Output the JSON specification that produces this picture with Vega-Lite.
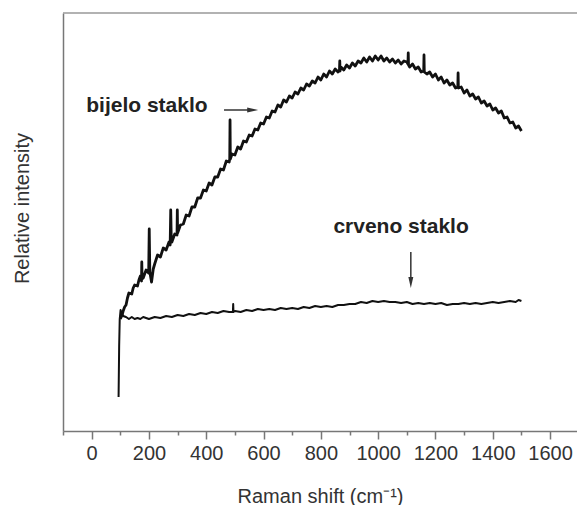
{
  "$schema": "https://vega.github.io/schema/vega-lite/v6.json",
  "autosize": {"type": "none"},
  "padding": {"left": 63, "top": 13, "right": 0, "bottom": 74},
  "width": 514,
  "height": 418,
  "background": "white",
  "view": {"stroke": null},
  "config": {
    "font": "Liberation Sans",
    "axis": {"grid": false, "labelFont": "Liberation Sans", "titleFont": "Liberation Sans"}
  },
  "datasets": {
    "white": [
      {"shift":100,"intensity":112},{"shift":105,"intensity":115},{"shift":110,"intensity":120},{"shift":115,"intensity":124},{"shift":120,"intensity":126},{"shift":125,"intensity":133},{"shift":130,"intensity":138},{"shift":140,"intensity":137},{"shift":145,"intensity":143},{"shift":150,"intensity":146},{"shift":160,"intensity":145},{"shift":165,"intensity":151},{"shift":170,"intensity":155},{"shift":174,"intensity":150},{"shift":175,"intensity":169},{"shift":176,"intensity":152},{"shift":180,"intensity":153},{"shift":190,"intensity":161},{"shift":199,"intensity":158},{"shift":201,"intensity":202},{"shift":203,"intensity":159},{"shift":209,"intensity":149},{"shift":215,"intensity":162},{"shift":220,"intensity":167},{"shift":230,"intensity":176},{"shift":240,"intensity":174},{"shift":250,"intensity":183},{"shift":260,"intensity":181},{"shift":270,"intensity":189},{"shift":274,"intensity":186},{"shift":276,"intensity":221},{"shift":278,"intensity":190},{"shift":280,"intensity":189},{"shift":290,"intensity":197},{"shift":298,"intensity":196},{"shift":299,"intensity":221},{"shift":300,"intensity":198},{"shift":310,"intensity":206},{"shift":320,"intensity":207},{"shift":330,"intensity":216},{"shift":340,"intensity":215},{"shift":350,"intensity":224},{"shift":360,"intensity":224},{"shift":370,"intensity":233},{"shift":380,"intensity":233},{"shift":390,"intensity":241},{"shift":400,"intensity":240},{"shift":410,"intensity":248},{"shift":420,"intensity":246},{"shift":430,"intensity":254},{"shift":440,"intensity":254},{"shift":450,"intensity":262},{"shift":460,"intensity":261},{"shift":470,"intensity":270},{"shift":480,"intensity":269},{"shift":482,"intensity":272},{"shift":483,"intensity":311},{"shift":484,"intensity":272},{"shift":490,"intensity":277},{"shift":500,"intensity":276},{"shift":510,"intensity":284},{"shift":520,"intensity":282},{"shift":530,"intensity":290},{"shift":540,"intensity":289},{"shift":550,"intensity":296},{"shift":560,"intensity":295},{"shift":570,"intensity":302},{"shift":580,"intensity":301},{"shift":590,"intensity":308},{"shift":600,"intensity":307},{"shift":610,"intensity":314},{"shift":620,"intensity":313},{"shift":630,"intensity":320},{"shift":640,"intensity":319},{"shift":650,"intensity":326},{"shift":660,"intensity":324},{"shift":670,"intensity":331},{"shift":680,"intensity":329},{"shift":690,"intensity":335},{"shift":700,"intensity":333},{"shift":710,"intensity":339},{"shift":720,"intensity":337},{"shift":730,"intensity":343},{"shift":740,"intensity":341},{"shift":750,"intensity":347},{"shift":760,"intensity":345},{"shift":770,"intensity":350},{"shift":780,"intensity":348},{"shift":790,"intensity":354},{"shift":800,"intensity":351},{"shift":810,"intensity":357},{"shift":820,"intensity":354},{"shift":830,"intensity":360},{"shift":840,"intensity":357},{"shift":850,"intensity":362},{"shift":860,"intensity":359},{"shift":865,"intensity":361},{"shift":866,"intensity":370},{"shift":867,"intensity":360},{"shift":870,"intensity":364},{"shift":880,"intensity":361},{"shift":890,"intensity":366},{"shift":900,"intensity":363},{"shift":910,"intensity":368},{"shift":920,"intensity":365},{"shift":930,"intensity":370},{"shift":940,"intensity":368},{"shift":950,"intensity":373},{"shift":960,"intensity":369},{"shift":970,"intensity":374},{"shift":980,"intensity":370},{"shift":990,"intensity":375},{"shift":1000,"intensity":371},{"shift":1010,"intensity":375},{"shift":1020,"intensity":370},{"shift":1030,"intensity":373},{"shift":1040,"intensity":369},{"shift":1050,"intensity":372},{"shift":1060,"intensity":368},{"shift":1070,"intensity":371},{"shift":1080,"intensity":367},{"shift":1090,"intensity":370},{"shift":1100,"intensity":369},{"shift":1104,"intensity":367},{"shift":1105,"intensity":378},{"shift":1106,"intensity":366},{"shift":1110,"intensity":364},{"shift":1120,"intensity":367},{"shift":1130,"intensity":362},{"shift":1140,"intensity":364},{"shift":1150,"intensity":359},{"shift":1159,"intensity":360},{"shift":1160,"intensity":376},{"shift":1161,"intensity":359},{"shift":1170,"intensity":357},{"shift":1180,"intensity":359},{"shift":1190,"intensity":354},{"shift":1200,"intensity":357},{"shift":1210,"intensity":351},{"shift":1220,"intensity":354},{"shift":1230,"intensity":348},{"shift":1240,"intensity":351},{"shift":1250,"intensity":346},{"shift":1260,"intensity":348},{"shift":1270,"intensity":343},{"shift":1278,"intensity":344},{"shift":1279,"intensity":358},{"shift":1280,"intensity":343},{"shift":1290,"intensity":344},{"shift":1300,"intensity":338},{"shift":1310,"intensity":341},{"shift":1320,"intensity":335},{"shift":1330,"intensity":337},{"shift":1340,"intensity":332},{"shift":1350,"intensity":334},{"shift":1360,"intensity":328},{"shift":1370,"intensity":330},{"shift":1380,"intensity":325},{"shift":1390,"intensity":327},{"shift":1400,"intensity":321},{"shift":1410,"intensity":323},{"shift":1420,"intensity":318},{"shift":1430,"intensity":320},{"shift":1440,"intensity":313},{"shift":1450,"intensity":314},{"shift":1460,"intensity":308},{"shift":1470,"intensity":309},{"shift":1480,"intensity":303},{"shift":1490,"intensity":305},{"shift":1500,"intensity":300}
    ],
    "red": [
      {"shift":94,"intensity":34},{"shift":96,"intensity":85},{"shift":98,"intensity":112},{"shift":101,"intensity":121},{"shift":105,"intensity":118},{"shift":110,"intensity":115},{"shift":120,"intensity":114},{"shift":130,"intensity":112},{"shift":140,"intensity":114},{"shift":150,"intensity":112},{"shift":160,"intensity":113},{"shift":170,"intensity":112},{"shift":180,"intensity":114},{"shift":190,"intensity":113},{"shift":200,"intensity":112},{"shift":220,"intensity":114},{"shift":240,"intensity":113},{"shift":260,"intensity":115},{"shift":280,"intensity":114},{"shift":300,"intensity":116},{"shift":320,"intensity":115},{"shift":340,"intensity":117},{"shift":360,"intensity":116},{"shift":380,"intensity":118},{"shift":400,"intensity":117},{"shift":420,"intensity":119},{"shift":440,"intensity":118},{"shift":460,"intensity":120},{"shift":480,"intensity":119},{"shift":493,"intensity":119},{"shift":494,"intensity":127},{"shift":495,"intensity":119},{"shift":500,"intensity":120},{"shift":520,"intensity":119},{"shift":540,"intensity":121},{"shift":560,"intensity":120},{"shift":580,"intensity":122},{"shift":600,"intensity":121},{"shift":620,"intensity":122},{"shift":640,"intensity":121},{"shift":660,"intensity":123},{"shift":680,"intensity":122},{"shift":700,"intensity":123},{"shift":720,"intensity":122},{"shift":740,"intensity":124},{"shift":760,"intensity":123},{"shift":780,"intensity":125},{"shift":800,"intensity":124},{"shift":820,"intensity":125},{"shift":840,"intensity":124},{"shift":860,"intensity":126},{"shift":880,"intensity":126},{"shift":900,"intensity":127},{"shift":920,"intensity":127},{"shift":940,"intensity":129},{"shift":960,"intensity":128},{"shift":980,"intensity":130},{"shift":1000,"intensity":129},{"shift":1020,"intensity":130},{"shift":1040,"intensity":129},{"shift":1060,"intensity":129},{"shift":1080,"intensity":128},{"shift":1100,"intensity":129},{"shift":1120,"intensity":127},{"shift":1140,"intensity":128},{"shift":1160,"intensity":127},{"shift":1180,"intensity":128},{"shift":1200,"intensity":127},{"shift":1220,"intensity":128},{"shift":1240,"intensity":126},{"shift":1260,"intensity":127},{"shift":1280,"intensity":127},{"shift":1300,"intensity":128},{"shift":1320,"intensity":127},{"shift":1340,"intensity":128},{"shift":1360,"intensity":127},{"shift":1380,"intensity":128},{"shift":1400,"intensity":129},{"shift":1420,"intensity":128},{"shift":1440,"intensity":129},{"shift":1460,"intensity":130},{"shift":1480,"intensity":129},{"shift":1490,"intensity":131},{"shift":1500,"intensity":130}
    ],
    "labels": [
      {"text": "bijelo staklo", "shift": 193, "intensity": 319},
      {"text": "crveno staklo", "shift": 1080, "intensity": 198}
    ],
    "arrows": [
      {"shift": 462, "shift2": 560, "intensity": 321, "intensity2": 321},
      {"shift": 1114, "shift2": 1114, "intensity": 179, "intensity2": 151}
    ],
    "frame": [{"shift": -100, "shift2": 1694, "intensity": 418}],
    "headRight": [{"shift": 562, "intensity": 321}],
    "headDown": [{"shift": 1114, "intensity": 148.5}]
  },
  "encoding": {
    "x": {
      "field": "shift", "type": "quantitative",
      "scale": {"domain": [-100, 1694], "nice": false, "zero": false},
      "axis": {
        "values": [-100, 0, 100, 200, 300, 400, 500, 600, 700, 800, 900, 1000, 1100, 1200, 1300, 1400, 1500, 1600],
        "labelExpr": "datum.value % 200 === 0 ? datum.label : ''",
        "format": "d",
        "tickSize": {"condition": {"test": "datum.value % 200 !== 0", "value": 4}, "value": 8},
        "tickColor": "#777777", "tickWidth": 1.5,
        "domainColor": "#777777", "domainWidth": 1.5,
        "labelFontSize": 20, "labelColor": "#333333", "labelPadding": 4, "labelFlush": false, "labelOverlap": false,
        "title": "Raman shift (cm⁻¹)",
        "titleFontSize": 20, "titleFontWeight": "normal", "titleColor": "#333333",
        "titleBaseline": "alphabetic", "titleY": 71
      }
    },
    "y": {
      "field": "intensity", "type": "quantitative",
      "scale": {"domain": [0, 418], "nice": false, "zero": false},
      "axis": {
        "labels": false, "ticks": false,
        "domainColor": "#777777", "domainWidth": 1.5,
        "title": "Relative intensity",
        "titleFontSize": 20, "titleFontWeight": "normal", "titleColor": "#333333",
        "titleBaseline": "alphabetic", "titleAlign": "center",
        "titleX": -35, "titleY": 195
      }
    }
  },
  "layer": [
    {
      "data": {"name": "white"},
      "mark": {"type": "line", "color": "#111111", "strokeWidth": 2.8, "strokeJoin": "round"}
    },
    {
      "data": {"name": "red"},
      "mark": {"type": "line", "color": "#111111", "strokeWidth": 2, "strokeJoin": "round"}
    },
    {
      "data": {"name": "frame"},
      "mark": {"type": "rule", "color": "#999999", "strokeWidth": 1.5},
      "encoding": {"x2": {"field": "shift2"}}
    },
    {
      "data": {"name": "arrows"},
      "mark": {"type": "rule", "color": "#333333", "strokeWidth": 1.5},
      "encoding": {"x2": {"field": "shift2"}, "y2": {"field": "intensity2"}}
    },
    {
      "data": {"name": "headRight"},
      "mark": {"type": "point", "shape": "M-1,-0.45L1,0L-1,0.45Z", "filled": true, "color": "#333333", "size": 121, "opacity": 1}
    },
    {
      "data": {"name": "headDown"},
      "mark": {"type": "point", "shape": "M-0.45,-1L0,1L0.45,-1Z", "filled": true, "color": "#333333", "size": 121, "opacity": 1}
    },
    {
      "data": {"name": "labels"},
      "mark": {"type": "text", "fontSize": 21, "fontWeight": "bold", "color": "#222222", "baseline": "alphabetic", "align": "center", "font": "Liberation Sans"},
      "encoding": {"text": {"field": "text"}}
    }
  ]
}
